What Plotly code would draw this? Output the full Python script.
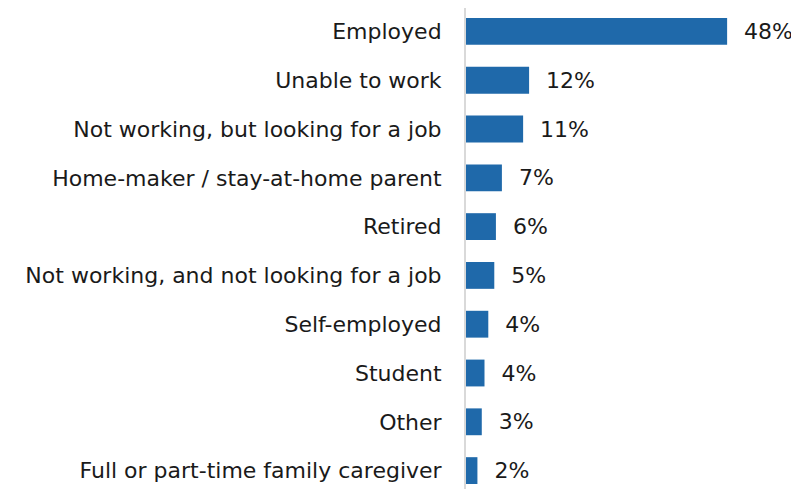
import plotly.graph_objects as go

categories = [
    "Employed",
    "Unable to work",
    "Not working, but looking for a job",
    "Home-maker / stay-at-home parent",
    "Retired",
    "Not working, and not looking for a job",
    "Self-employed",
    "Student",
    "Other",
    "Full or part-time family caregiver",
]
values = [48.0, 11.6, 10.5, 6.6, 5.5, 5.2, 4.1, 3.4, 2.9, 2.1]
labels = ["48%", "12%", "11%", "7%", "6%", "5%", "4%", "4%", "3%", "2%"]

FONT = "DejaVu Sans, Verdana, sans-serif"

fig = go.Figure(
    go.Bar(
        x=values,
        y=categories,
        orientation="h",
        marker=dict(color="#1f69aa", line=dict(width=0)),
        text=["\u00a0\u00a0" + t for t in labels],
        textposition="outside",
        textfont=dict(family=FONT, size=22, color="#1a1a1a"),
        cliponaxis=False,
        hoverinfo="skip",
    )
)

fig.update_layout(
    width=791,
    height=481,
    margin=dict(l=458, r=61, t=0, b=0),
    paper_bgcolor="white",
    plot_bgcolor="white",
    bargap=0.45,
    showlegend=False,
    font=dict(family=FONT, size=22, color="#1a1a1a"),
    xaxis=dict(
        range=[0, 50],
        visible=False,
        showgrid=False,
        zeroline=False,
    ),
    yaxis=dict(
        categoryorder="array",
        categoryarray=categories,
        range=[9.377, -0.48],
        showgrid=False,
        zeroline=False,
        showline=True,
        linecolor="#d9d9d9",
        linewidth=2,
        ticks="",
        ticklabelstandoff=18,
        tickfont=dict(family=FONT, size=22, color="#1a1a1a"),
    ),
)

fig.write_html("out.html")
